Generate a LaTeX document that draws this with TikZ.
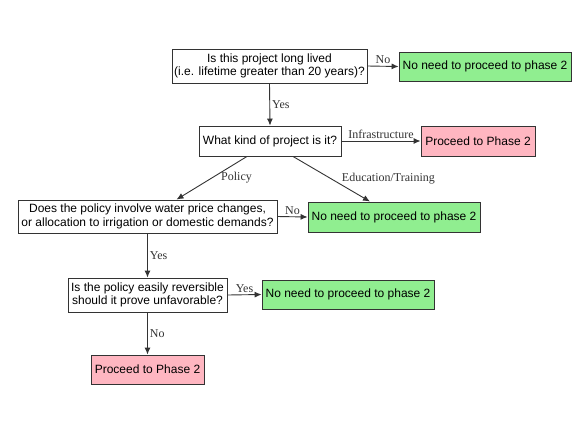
\documentclass[tikz,border=0pt]{standalone}
\usepackage{fontspec}
\setmainfont{Liberation Sans}
\newfontfamily\lblfont{Liberation Serif}
\usetikzlibrary{arrows.meta,calc}
\definecolor{yesgreen}{HTML}{90EE90}
\definecolor{phpink}{HTML}{FFB6C1}
\definecolor{edge}{HTML}{333333}
\tikzset{
  box/.style={draw=edge, line width=0.9pt, align=center, inner sep=0pt,
    font=\fontsize{12}{13.5}\selectfont, text=black},
  qbox/.style={box, fill=white},
  gbox/.style={box, fill=yesgreen},
  pbox/.style={box, fill=phpink},
  conn/.style={draw=edge, line width=0.9pt, -{Latex[length=7pt,width=6pt]}},
  lbl/.style={font=\lblfont\fontsize{12}{13}\selectfont, text=edge, inner sep=2pt}
}
\begin{document}
\begin{tikzpicture}[x=1pt,y=-1pt]
\useasboundingbox (0,0) rectangle (587,432);
\node[qbox, minimum width=195pt, minimum height=34pt] (q1) at (269.5,66)
  {Is this project long lived\\(i.e. lifetime greater than 20 years)?};
\node[gbox, minimum width=172pt, minimum height=29pt] (g1) at (485,66.5)
  {No need to proceed to phase 2};
\node[qbox, minimum width=142pt, minimum height=30pt] (q2) at (270,141)
  {What kind of project is it?};
\node[pbox, minimum width=114pt, minimum height=30pt] (p1) at (478,141)
  {Proceed to Phase 2};
\node[gbox, minimum width=172pt, minimum height=30pt] (g2) at (394,217)
  {No need to proceed to phase 2};
\node[qbox, minimum width=259pt, minimum height=33pt] (q3) at (147.5,216.5)
  {Does the policy involve water price changes,\\or allocation to irrigation or domestic demands?};
\node[qbox, minimum width=159pt, minimum height=34pt] (q4) at (147.5,295)
  {Is the policy easily reversible\\should it prove unfavorable?};
\node[gbox, minimum width=172pt, minimum height=29pt] (g3) at (348,294.5)
  {No need to proceed to phase 2};
\node[pbox, minimum width=113pt, minimum height=29pt] (p2) at (147.5,369.5)
  {Proceed to Phase 2};

\draw[conn] (q1.east) -- node[lbl, above] {No} (g1.west);
\draw[conn] (q1.south) -- node[lbl, right] {Yes} (q2.north);
\draw[conn] (q2.east) -- node[lbl, above] {Infrastructure} (p1.west);
\draw[conn] ($(q2.south)+(-23,0)$) -- node[lbl, anchor=west, xshift=7pt] {Policy} ($(q3.north)+(29,0)$);
\draw[conn] ($(q2.south)+(23,0)$) -- node[lbl, anchor=west, xshift=8pt] {Education/Training} ($(g2.north)+(-24,0)$);
\draw[conn] (q3.east) -- node[lbl, above] {No} (g2.west);
\draw[conn] (q3.south) -- node[lbl, right] {Yes} (q4.north);
\draw[conn] (q4.east) -- node[lbl, above] {Yes} (g3.west);
\draw[conn] (q4.south) -- node[lbl, right] {No} (p2.north);
\end{tikzpicture}
\end{document}
